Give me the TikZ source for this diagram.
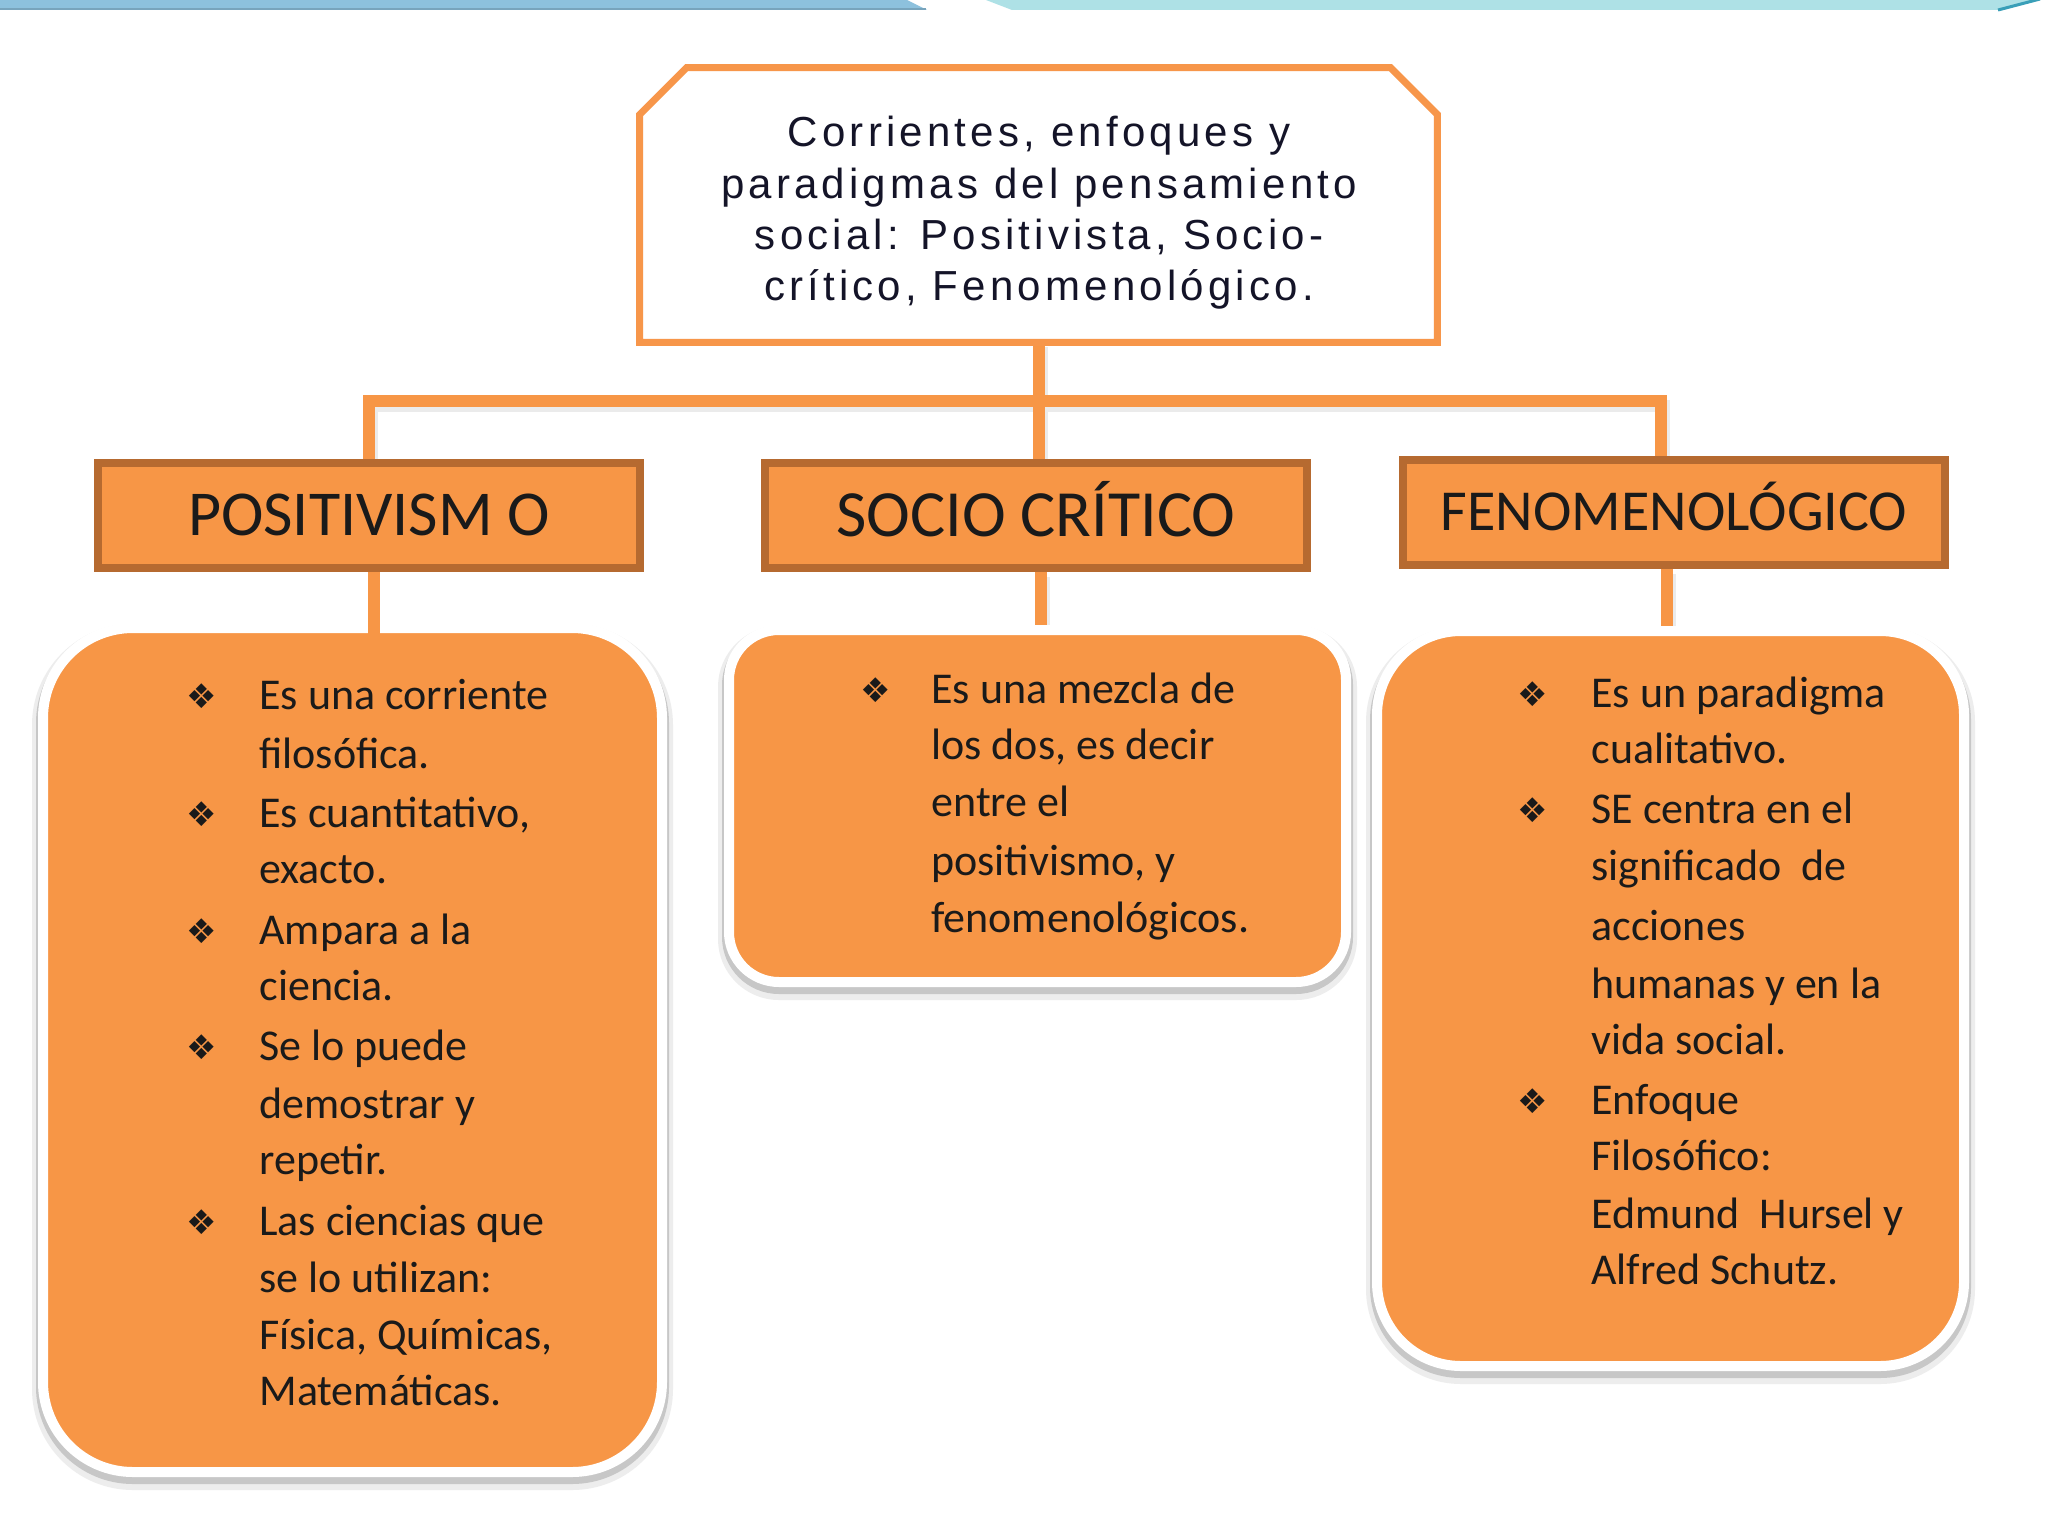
\documentclass[tikz,border=0pt]{standalone}
\usepackage{fontspec}
\newfontfamily\carl{Carlito}
\newfontfamily\titlef{Liberation Sans}[LetterSpace=10]
\newfontfamily\dejavu{DejaVu Sans}
\usetikzlibrary{calc,shadows}
\pgfdeclarelayer{bg}
\pgfsetlayers{bg,main}
\definecolor{orangef}{HTML}{F79646}
\definecolor{boxline}{HTML}{B66A30}
\definecolor{connc}{HTML}{F79646}
\definecolor{titleline}{HTML}{F7964A}
\definecolor{txt}{HTML}{1A1A1A}
\definecolor{titletxt}{HTML}{141428}
\definecolor{bluebar}{HTML}{8DC1DD}
\definecolor{cyanbar}{HTML}{AEE1E6}
\definecolor{tealline}{HTML}{3A9FB8}
\begin{document}
\begin{tikzpicture}[x=0.5pt,y=-0.5pt,
 conn/.style={draw=connc, line width=6pt},
 connshadow/.style={draw=black!8, line width=6pt},
 headbox/.style={rectangle, fill=orangef, draw=boxline, line width=4pt, minimum width=271pt, minimum height=52.5pt, inner sep=0pt, text=txt, text depth=0pt},
 card/.style={rectangle, rounded corners=#1, fill=orangef, draw=white, line width=5pt, inner sep=0pt,
   general shadow={draw=black!7, fill=black!7, line width=11pt, shadow yshift=-3.5pt},
   general shadow={draw=black!22, fill=black!22, line width=7pt, shadow yshift=-2.5pt}},
 ln/.style={anchor=base west, inner sep=0pt, text=txt, font=\carl\fontsize{22}{29}\selectfont},
 bul/.style={anchor=center, inner sep=0pt, text=txt, font=\dejavu\fontsize{17}{20}\selectfont},
 tl/.style={anchor=base, inner sep=0pt, text=titletxt, font=\titlef\fontsize{21}{25}\selectfont}
]
\useasboundingbox (0,0) rectangle (2048,1536);
\begin{pgfonlayer}{bg}
\fill[white] (0,0) rectangle (2048,1536);
\end{pgfonlayer}

% top decorative bar
\fill[bluebar] (0,0) -- (907,0) -- (927,10) -- (0,10) -- cycle;
\draw[bluebar!85!black, line width=1pt] (0,9) -- (926,9);
\fill[cyanbar] (986,0) -- (2040,0) -- (2003,10) -- (1012,10) -- cycle;
\draw[tealline, line width=1.5pt] (1998,10) -- (2040,-1);

% title box
\node[minimum width=398.5pt, minimum height=137pt, inner sep=0pt] (title) at (1038.5,205) {};
\draw[titleline, line width=3.5pt, line join=miter] (title.south west) -- ($(title.north west)+(0,47)$) -- ($(title.north west)+(47,0)$) -- ($(title.north east)+(-47,0)$) -- ($(title.north east)+(0,47)$) -- (title.south east) -- cycle;
\node[tl] (t1) at (1039,147) {Corrientes, enfoques y};
\node[tl] (t2) at (1039,198) {paradigmas del pensamiento};
\node[tl] (t3) at (1039,249) {social: Positivista, Socio-};
\node[tl] (t4) at (1039,300) {crítico, Fenomenológico.};

% second level boxes
\node[headbox, text height=20.3pt, font=\carl\fontsize{32}{38}\selectfont] (pos) at (369,515.5) {POSITIVISM O};
\node[headbox, text height=20.9pt, font=\carl\fontsize{33}{38}\selectfont] (socio) at (1036,515.5) {SOCIO CRÍTICO};
\node[headbox, text height=18.4pt, font=\carl\fontsize{29}{36}\selectfont] (feno) at (1674,512.5) {FENOMENOLÓGICO};

% cards
\node[card=45pt, minimum width=309.5pt, minimum height=422pt] (lcard) at (352.5,1050) {};
\node[card=25pt, minimum width=308.5pt, minimum height=176pt] (mcard) at (1037.5,806) {};
\node[card=42pt, minimum width=293.5pt, minimum height=367.5pt] (rcard) at (1670.5,998.5) {};

% connectors
\coordinate (jn) at (1038.5,401);
\begin{pgfonlayer}{bg}
\begin{scope}[transform canvas={shift={(1.5pt,-2.5pt)}}]
\draw[connshadow] (pos.north) |- (jn) -| ([xshift=-6.5pt]feno.north);
\draw[connshadow] (title.south) -- (title.south |- socio.north);
\draw[connshadow] ([xshift=2.5pt]socio.south) -- ([xshift=2.5pt]socio.south |- mcard.north);
\draw[connshadow] ([xshift=-3.5pt]feno.south) -- ([xshift=-3.5pt]feno.south |- rcard.north);
\end{scope}
\draw[conn] (pos.north) |- (jn) -| ([xshift=-6.5pt]feno.north);
\draw[conn] (title.south) -- (title.south |- socio.north);
\draw[conn] ([xshift=2.5pt]socio.south) -- ([xshift=2.5pt]socio.south |- mcard.north);
\draw[conn] ([xshift=-3.5pt]feno.south) -- ([xshift=-3.5pt]feno.south |- rcard.north);
\end{pgfonlayer}
\draw[conn] ([xshift=2.5pt]pos.south) -- ([xshift=2.5pt,yshift=-7pt]pos.south |- lcard.north);

% left card text
\node[bul] (lb1) at (202,696) {❖};
\node[ln] (l1) at (259,709) {Es una corriente};
\node[ln] (l2) at (259,768) {filosófica.};
\node[bul] (lb2) at (202,814) {❖};
\node[ln] (l3) at (259,827) {Es cuantitativo,};
\node[ln] (l4) at (259,883) {exacto.};
\node[bul] (lb3) at (202,931) {❖};
\node[ln] (l5) at (259,944) {Ampara a la};
\node[ln] (l6) at (259,1000) {ciencia.};
\node[bul] (lb4) at (202,1047) {❖};
\node[ln] (l7) at (259,1060) {Se lo puede};
\node[ln] (l8) at (259,1118) {demostrar y};
\node[ln] (l9) at (259,1174) {repetir.};
\node[bul] (lb5) at (202,1222) {❖};
\node[ln] (l10) at (259,1235) {Las ciencias que};
\node[ln] (l11) at (259,1292) {se lo utilizan:};
\node[ln] (l12) at (259,1349) {Física, Químicas,};
\node[ln] (l13) at (259,1405) {Matemáticas.};

% middle card text
\node[bul] (mb1) at (876,690) {❖};
\node[ln] (m1) at (931,703) {Es una mezcla de};
\node[ln] (m2) at (931,759) {los dos, es decir};
\node[ln] (m3) at (931,816) {entre el};
\node[ln] (m4) at (931,875) {positivismo, y};
\node[ln] (m5) at (931,932) {fenomenológicos.};

% right card text
\node[bul] (rb1) at (1533,694) {❖};
\node[ln] (r1) at (1591,707) {Es un paradigma};
\node[ln] (r2) at (1591,763) {cualitativo.};
\node[bul] (rb2) at (1533,810) {❖};
\node[ln] (r3) at (1591,823) {SE centra en el};
\node[ln] (r4) at (1591,880) {significado \ de};
\node[ln] (r5) at (1591,940) {acciones};
\node[ln] (r6) at (1591,998) {humanas y en la};
\node[ln] (r7) at (1591,1054) {vida social.};
\node[bul] (rb3) at (1533,1101) {❖};
\node[ln] (r8) at (1591,1114) {Enfoque};
\node[ln] (r9) at (1591,1170) {Filosófico:};
\node[ln] (r10) at (1591,1228) {Edmund \ Hursel y};
\node[ln] (r11) at (1591,1284) {Alfred Schutz.};
\end{tikzpicture}
\end{document}
